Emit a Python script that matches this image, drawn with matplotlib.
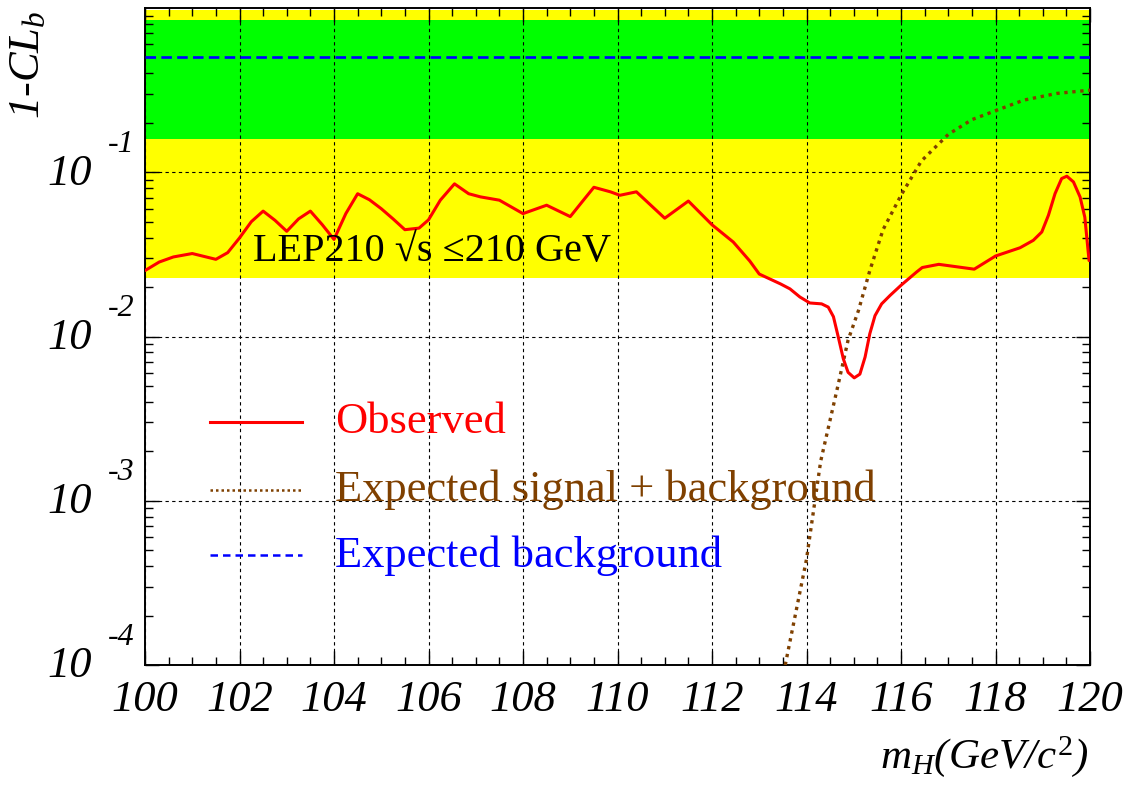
import matplotlib
matplotlib.use("Agg")
import matplotlib.pyplot as plt
from matplotlib.ticker import MultipleLocator, LogLocator, NullFormatter
import numpy as np

# Observed 1-CLb versus Higgs mass
obs_mass = [100.0, 100.3, 100.6, 101.0, 101.5, 101.75, 102.0, 102.25, 102.5, 102.75,
            103.0, 103.25, 103.5, 103.75, 104.0, 104.25, 104.5, 104.75, 105.0, 105.25,
            105.5, 105.8, 106.0, 106.25, 106.55, 106.85, 107.1, 107.5, 108.0, 108.5,
            109.0, 109.25, 109.5, 109.85, 110.05, 110.4, 111.0, 111.5, 112.0, 112.45,
            112.8, 113.0, 113.45, 113.65, 113.86, 114.07, 114.32, 114.46, 114.57, 114.67,
            114.78, 114.88, 115.01, 115.13, 115.24, 115.34, 115.45, 115.59, 115.77, 116.0,
            116.33, 116.45, 116.8, 117.55, 118.0, 118.52, 118.8, 118.98, 119.12, 119.26,
            119.4, 119.51, 119.65, 119.79, 119.89, 119.98]
obs_clb = [0.0252, 0.0284, 0.0305, 0.0320, 0.0295, 0.0324, 0.0398, 0.050, 0.058, 0.051,
           0.0437, 0.052, 0.058, 0.048, 0.039, 0.056, 0.074, 0.068, 0.060, 0.052,
           0.0447, 0.0457, 0.0513, 0.0676, 0.085, 0.074, 0.0708, 0.0676, 0.056, 0.063,
           0.0537, 0.066, 0.081, 0.076, 0.0724, 0.076, 0.0525, 0.0668, 0.0479, 0.0376,
           0.0288, 0.024, 0.0209, 0.0195, 0.0174, 0.0160, 0.0158, 0.0151, 0.0132, 0.0100,
           0.0073, 0.00605, 0.0056, 0.0059, 0.0075, 0.0104, 0.0134, 0.0158, 0.0178, 0.0205,
           0.0247, 0.0263, 0.0275, 0.0257, 0.0309, 0.0347, 0.0385, 0.0433, 0.0547, 0.0741,
           0.0916, 0.0946, 0.0873, 0.0707, 0.0533, 0.029]

# Expected signal + background
sb_mass = [113.55, 114.0, 114.3, 114.65, 114.88, 115.1, 115.34, 115.62, 116.0, 116.43,
           117.0, 117.5, 118.0, 118.6, 119.3, 120.0]
sb_clb = [1.0e-4, 4.4e-4, 1.74e-3, 4.8e-3, 9.5e-3, 0.0144, 0.0252, 0.0447, 0.0724, 0.117,
          0.17, 0.209, 0.237, 0.275, 0.302, 0.316]

# Expected background
bkg_mass = [100.0, 120.0]
bkg_clb = [0.5, 0.5]

# 1 and 2 sigma bands
band_1sigma = (0.159, 0.841)
band_2sigma = (0.0228, 0.977)

y_ticks = [1e-4, 1e-3, 1e-2, 1e-1]
x_ticks = list(range(100, 121, 2))

serif = ["Liberation Serif", "DejaVu Serif"]
plt.rcParams["font.family"] = serif
plt.rcParams["mathtext.fontset"] = "custom"
plt.rcParams["mathtext.rm"] = "Liberation Serif"
plt.rcParams["mathtext.it"] = "Liberation Serif:italic"

fig = plt.figure(figsize=(11.42, 7.91), dpi=100)
ax = fig.add_axes([145 / 1142, 1 - 665 / 791, 945 / 1142, 657 / 791])

ax.set_yscale("log")
ax.set_xlim(100, 120)
ax.set_ylim(1e-4, 1.0)

ax.axhspan(*band_2sigma, color="#ffff00", lw=0, zorder=0.5)
ax.axhspan(*band_1sigma, color="#00ff00", lw=0, zorder=0.6)

ax.plot(bkg_mass, bkg_clb, color="#0000ff", lw=1.9, linestyle=(0, (4, 2)), zorder=3)
ax.plot(sb_mass, sb_clb, color="#7f4000", lw=2.4, linestyle=(0, (1, 1.4)), zorder=3)
ax.plot(obs_mass, obs_clb, color="#ff0000", lw=2.2, zorder=4,
        solid_joinstyle="round", solid_capstyle="round")

# grid and ticks
ax.set_xticks(x_ticks)
ax.xaxis.set_minor_locator(MultipleLocator(0.5))
ax.set_yticks(y_ticks)
ax.yaxis.set_minor_locator(LogLocator(base=10, subs=np.arange(2, 10)))
ax.yaxis.set_major_formatter(NullFormatter())
ax.yaxis.set_minor_formatter(NullFormatter())
ax.grid(True, which="major", color="black", lw=0.8, linestyle=(0, (3, 3)))
ax.tick_params(which="both", direction="in", top=True, right=True, width=1.0)
ax.tick_params(which="major", length=10)
ax.tick_params(which="minor", length=6)
ax.tick_params(axis="x", which="major", pad=11)
ax.set_xticklabels([str(t) for t in x_ticks], fontsize=32, fontstyle="italic")
for s in ax.spines.values():
    s.set_linewidth(1.4)

# y tick labels drawn as 10 with a raised exponent
for v in y_ticks:
    ax.annotate("10", xy=(0, v), xycoords=("axes fraction", "data"),
                xytext=(-38, -1), textcoords="offset points",
                ha="right", va="center", fontsize=32, fontstyle="italic")
    ax.annotate("-%d" % round(-np.log10(v)), xy=(0, v), xycoords=("axes fraction", "data"),
                xytext=(-27, 20), textcoords="offset points",
                ha="left", va="center", fontsize=23, fontstyle="italic")

# axis titles
fig.text(28 / 1142, 1 - 65 / 791, "1-CL$_b$", rotation=90, ha="center", va="center",
         fontsize=32, fontstyle="italic")
fig.text(1088 / 1142, 1 - 768 / 791, "$m_H$(GeV/$c^2$)", ha="right", va="baseline",
         fontsize=31, fontstyle="italic")

# annotation
ax.text(0.114, 0.630, "LEP210 \u221as \u2264210 GeV", transform=ax.transAxes,
        ha="left", va="center", fontsize=29, color="black", zorder=5)

# legend
legend_rows = [
    ("Observed", "#ff0000", "-", 2.2, 0.370),
    ("Expected signal + background", "#7f4000", (0, (1, 1.2)), 1.8, 0.266),
    ("Expected background", "#0000ff", (0, (3, 2)), 1.8, 0.167),
]
for label, col, ls, lw, yy in legend_rows:
    ax.plot([0.0688, 0.166], [yy, yy], transform=ax.transAxes, color=col,
            linestyle=ls, lw=lw, zorder=5)
    ax.text(0.201, yy, label, transform=ax.transAxes, ha="left", va="center",
            fontsize=32, color=col, zorder=5)

fig.savefig("out.png", dpi=100)
